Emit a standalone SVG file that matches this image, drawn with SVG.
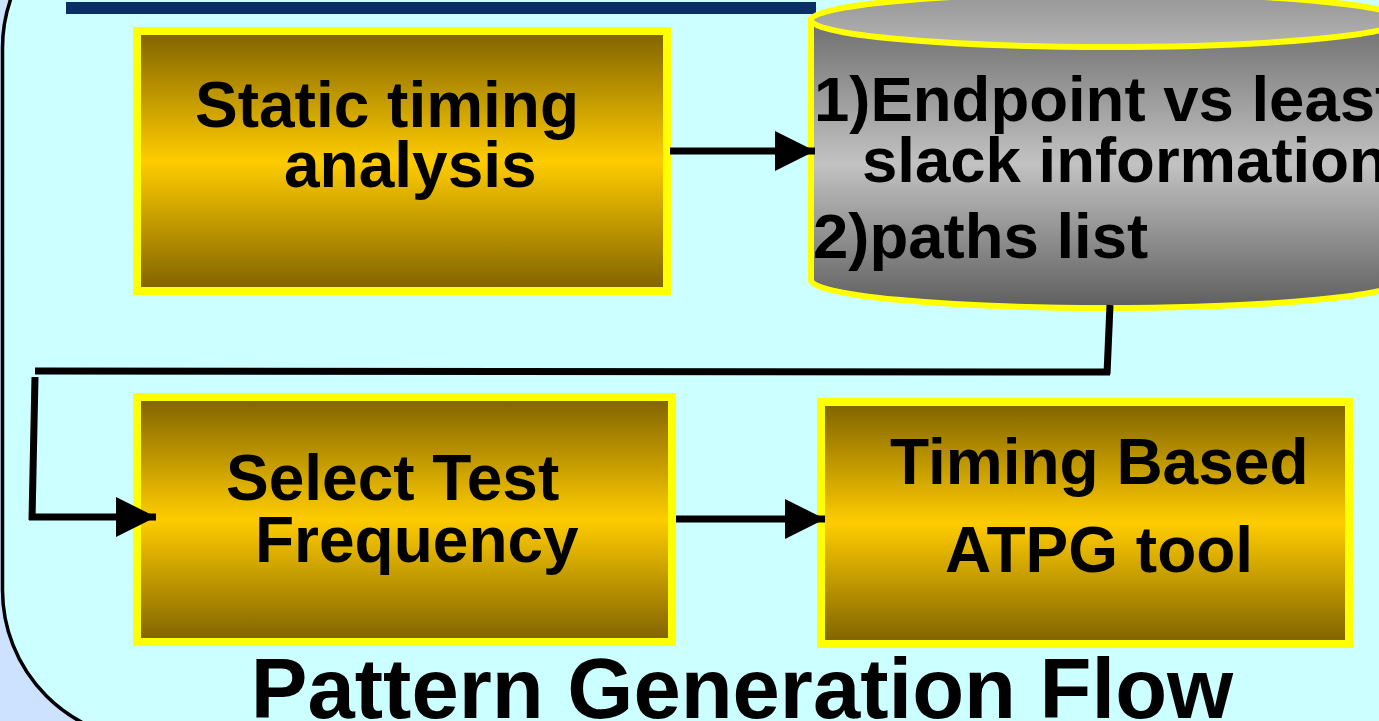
<svg xmlns="http://www.w3.org/2000/svg" width="1379" height="721" viewBox="0 0 1379 721">
<defs>
<linearGradient id="gold" x1="0" y1="0" x2="0" y2="1">
<stop offset="0" stop-color="#7F6200"/>
<stop offset="0.5" stop-color="#FFCC00"/>
<stop offset="1" stop-color="#7F6200"/>
</linearGradient>
<linearGradient id="cylBody" gradientUnits="userSpaceOnUse" x1="0" y1="20" x2="0" y2="308">
<stop offset="0" stop-color="#6E6E6E"/>
<stop offset="0.5" stop-color="#C2C2C2"/>
<stop offset="1" stop-color="#5E5E5E"/>
</linearGradient>
<linearGradient id="cylTop" x1="0" y1="0" x2="0" y2="1">
<stop offset="0" stop-color="#969696"/>
<stop offset="1" stop-color="#B4B4B4"/>
</linearGradient>
<marker id="arrow" markerUnits="userSpaceOnUse" markerWidth="42" markerHeight="42" refX="40" refY="20" orient="auto" viewBox="0 0 42 42">
<path d="M0,0 L40,20 L0,40 Z" fill="#000"/>
</marker>
<style>
.box{fill:url(#gold);stroke:#FFFF00;stroke-width:8}
.lbl{font-family:"Liberation Sans",Arial,sans-serif;font-weight:bold;font-size:64px;fill:#000}
.con{fill:none;stroke:#000;stroke-width:7}
</style>
</defs>
<rect x="0" y="0" width="1379" height="721" fill="#CCE2FF"/>
<rect x="2.5" y="-102" width="1500" height="842" rx="150" ry="150" fill="#CCFFFF" stroke="#000" stroke-width="3.5"/>
<rect x="66" y="2" width="750" height="12" fill="#0A2E66"/>

<g id="static-timing">
<rect class="box" x="137" y="31" width="530" height="260"/>
<text class="lbl" x="195" y="127">Static timing</text>
<text class="lbl" x="284" y="187">analysis</text>
</g>

<g id="slack-info">
<path d="M811,20 L811,280 A296,28 0 0 0 1403,280 L1403,20 Z" fill="url(#cylBody)" stroke="#FFFF00" stroke-width="6"/>
<ellipse cx="1107" cy="20" rx="296" ry="27" fill="url(#cylTop)" stroke="#FFFF00" stroke-width="6"/>
<text class="lbl" x="814" y="121" font-size="63.5" style="font-size:63.5px">1)Endpoint vs least</text>
<text class="lbl" x="862" y="182" style="font-size:63.5px">slack information</text>
<text class="lbl" x="813" y="258" style="font-size:63.5px">2)paths list</text>
</g>

<g id="select-freq">
<rect class="box" x="137" y="397" width="535" height="245"/>
<text class="lbl" x="226" y="500">Select Test</text>
<text class="lbl" x="255" y="562">Frequency</text>
</g>

<g id="atpg">
<rect class="box" x="821" y="402" width="528" height="242"/>
<text class="lbl" x="890" y="484">Timing Based</text>
<text class="lbl" x="945" y="572">ATPG tool</text>
</g>

<g id="connectors">
<line class="con" x1="670" y1="151" x2="815" y2="151" marker-end="url(#arrow)"/>
<path class="con" d="M1110,305 L1107,374"/>
<path class="con" d="M1110,372 L35,371"/>
<path class="con" d="M35,377 L32,520"/>
<line class="con" x1="29" y1="517" x2="156" y2="517" marker-end="url(#arrow)"/>
<line class="con" x1="676" y1="519" x2="825" y2="519" marker-end="url(#arrow)"/>
</g>

<text x="742" y="718" text-anchor="middle" style="font-family:'Liberation Sans',Arial,sans-serif;font-weight:bold;font-size:85px;fill:#000">Pattern Generation Flow</text>
</svg>
